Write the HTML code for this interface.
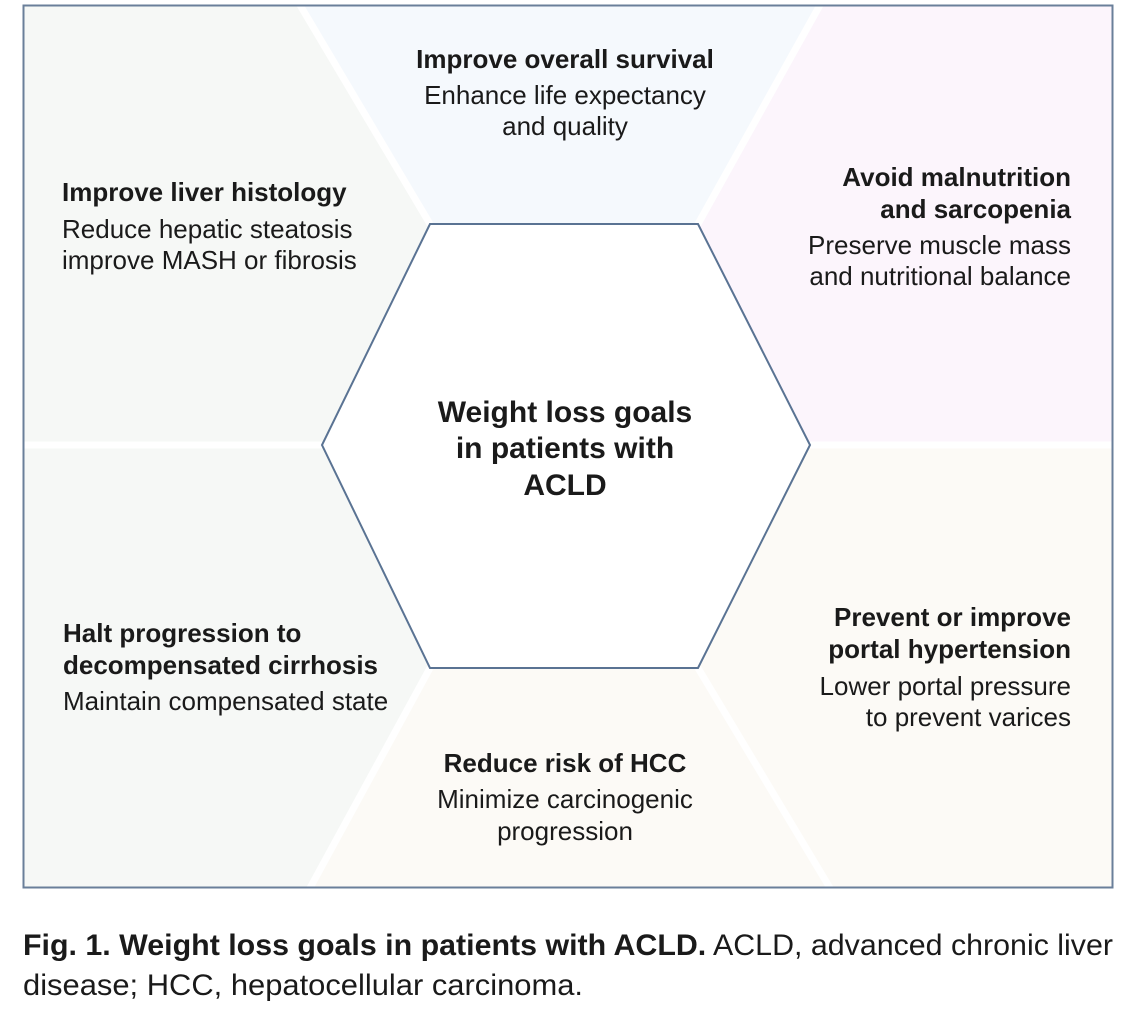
<!DOCTYPE html>
<html><head><meta charset="utf-8"><style>
html,body{margin:0;padding:0;background:#fff}
svg{display:block}
text{font-family:"Liberation Sans",Arial,sans-serif;fill:#1a1a1a}
.b{font-weight:bold}
</style></head><body>
<svg width="1142" height="1020" viewBox="0 0 1142 1020" xmlns="http://www.w3.org/2000/svg">
<g stroke="none">
<polygon points="300,5 820,5 698,224 430,224" fill="#f5f9fd"/>
<polygon points="820,5 1113,5 1113,445 810,445 698,224" fill="#fcf5fc"/>
<polygon points="810,445 1113,445 1113,888 830,888 698,668" fill="#fcfaf6"/>
<polygon points="430,668 698,668 830,888 310,888" fill="#fcfaf6"/>
<polygon points="23,445 322,445 430,668 310,888 23,888" fill="#f6f8f6"/>
<polygon points="23,5 300,5 430,224 322,445 23,445" fill="#f6f8f6"/>
<polygon points="430,224 698,224 810,445 698,668 430,668 322,445" fill="#fff"/>
</g>
<g stroke="#fff" stroke-width="7">
<line x1="300" y1="5" x2="430" y2="224"/>
<line x1="820" y1="5" x2="698" y2="224"/>
<line x1="23" y1="445" x2="322" y2="445"/>
<line x1="810" y1="445" x2="1113" y2="445"/>
<line x1="430" y1="668" x2="310" y2="888"/>
<line x1="698" y1="668" x2="830" y2="888"/>
</g>
<rect x="23.5" y="5.5" width="1089" height="882" fill="none" stroke="#6a7f9a" stroke-width="2"/>
<polygon points="430,224 698,224 810,445 698,668 430,668 322,445" fill="none" stroke="#5a7393" stroke-width="2"/>

<g font-size="26" text-anchor="middle">
<text x="565" y="68" class="b">Improve overall survival</text>
<text x="565" y="104">Enhance life expectancy</text>
<text x="565" y="135">and quality</text>
<text x="565" y="772" class="b">Reduce risk of HCC</text>
<text x="565" y="808">Minimize carcinogenic</text>
<text x="565" y="840">progression</text>
</g>
<g font-size="26">
<text x="62" y="201" class="b">Improve liver histology</text>
<text x="62" y="238">Reduce hepatic steatosis</text>
<text x="62" y="269">improve MASH or fibrosis</text>
<text x="63" y="642" class="b">Halt progression to</text>
<text x="63" y="674" class="b">decompensated cirrhosis</text>
<text x="63" y="710">Maintain compensated state</text>
</g>
<g font-size="26" text-anchor="end">
<text x="1071" y="186" class="b">Avoid malnutrition</text>
<text x="1071" y="218" class="b">and sarcopenia</text>
<text x="1071" y="254">Preserve muscle mass</text>
<text x="1071" y="285">and nutritional balance</text>
<text x="1071" y="626" class="b">Prevent or improve</text>
<text x="1071" y="658" class="b">portal hypertension</text>
<text x="1071" y="695">Lower portal pressure</text>
<text x="1071" y="726">to prevent varices</text>
</g>
<g font-size="30" text-anchor="middle">
<text x="565" y="422" class="b">Weight loss goals</text>
<text x="565" y="458" class="b">in patients with</text>
<text x="565" y="495" class="b">ACLD</text>
</g>
<text x="23" y="955" font-size="30" textLength="1090" lengthAdjust="spacingAndGlyphs"><tspan class="b">Fig. 1.  Weight loss goals in patients with ACLD.</tspan> ACLD, advanced chronic liver</text>
<text x="23" y="995" font-size="30" textLength="560" lengthAdjust="spacingAndGlyphs">disease; HCC, hepatocellular carcinoma.</text>
</svg>
</body></html>
